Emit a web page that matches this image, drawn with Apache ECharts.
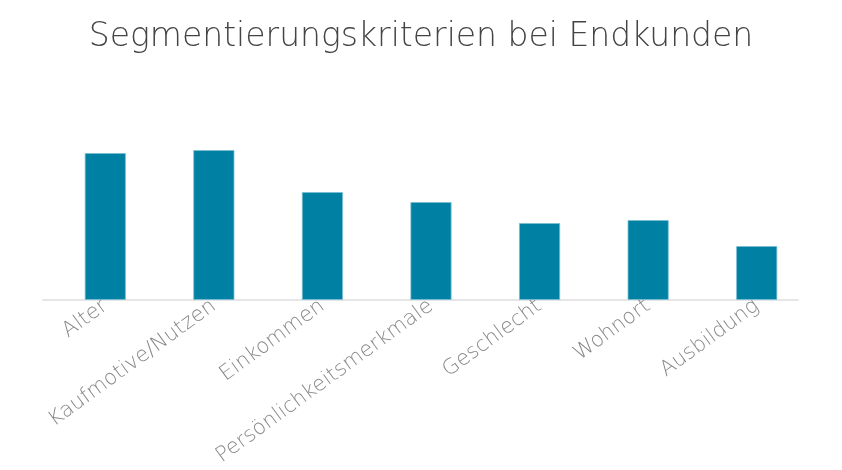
<!DOCTYPE html>
<html><head><meta charset="utf-8">
<script src="https://cdn.jsdelivr.net/npm/echarts@6/dist/echarts.min.js"></script>
<style>html,body{margin:0;padding:0;background:#fff}#c{width:842px;height:470px}</style>
</head><body><div id="c"></div>
<script>
const categories = ["Alter","Kaufmotive/Nutzen","Einkommen","Persönlichkeitsmerkmale","Geschlecht","Wohnort","Ausbildung"];
const values = [147,150,108,98,77,80,54];
const chart = echarts.init(document.getElementById('c'));
chart.setOption({
  animation:false,
  title:{text:"Segmentierungskriterien bei Endkunden",left:'center',top:16,
    textStyle:{fontFamily:'DejaVu Sans',fontWeight:200,fontSize:33,color:'#444'}},
  grid:[{left:51,right:31,top:100,bottom:170},{left:43,right:44,top:100,bottom:170}],
  xAxis:[{type:'category',data:categories,gridIndex:0,
    axisLine:{show:false},axisTick:{show:false},
    axisLabel:{rotate:36,interval:0,margin:4,fontFamily:'DejaVu Sans',fontWeight:200,fontSize:21,color:'#888'}},
    {type:'category',data:categories,gridIndex:1,
    axisLine:{lineStyle:{color:'#e6e6e6',width:2}},axisTick:{show:false},axisLabel:{show:false}}],
  yAxis:[{type:'value',min:0,max:200,show:false,gridIndex:0},{type:'value',min:0,max:200,show:false,gridIndex:1}],
  series:[{type:'bar',data:values,barCategoryGap:'62%',
    itemStyle:{color:'#0080a3',borderColor:'rgba(120,190,210,0.8)',borderWidth:1}}]
});
</script></body></html>
